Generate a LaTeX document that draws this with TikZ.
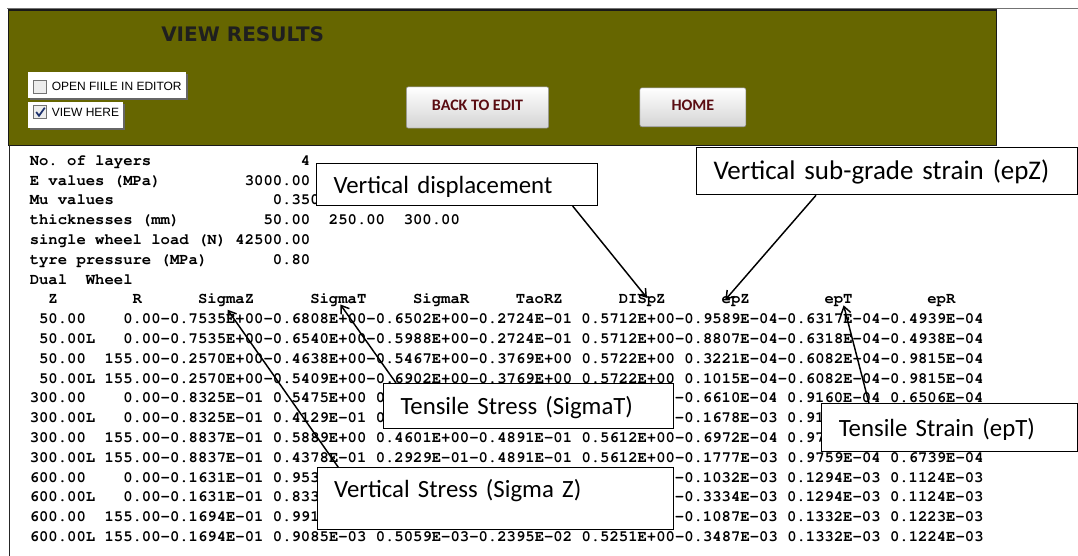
\documentclass[tikz,border=0pt]{standalone}
\usepackage{fontspec}
\newfontfamily\notefont{Carlito}
\newfontfamily\formfont{Liberation Sans}
\newfontfamily\headfont{DejaVu Sans}
\newcommand\monofont{\usefont{OT1}{pcr}{b}{n}\frenchspacing}
\usetikzlibrary{arrows.meta,calc,positioning}
\definecolor{panelolive}{RGB}{102,102,0}
\definecolor{btntext}{RGB}{90,12,18}
\definecolor{ticknavy}{RGB}{30,50,110}
\tikzset{
    cell/.style={anchor=base west,inner sep=0pt,font=\monofont\fontsize{11.69}{14}\selectfont},
    callout/.style={draw,fill=white,line width=0.75pt,anchor=north west,align=left,
        inner xsep=12.75pt,inner ysep=0pt,text height=13pt,text depth=0pt,
        font=\notefont\fontsize{18.6}{22}\selectfont},
    pointer/.style={-{Straight Barb[length=5.5pt,width=7.5pt]},line width=1.1pt},
    button/.style={draw=black!45,rounded corners=1.5pt,top color=white,bottom color=black!17,
        font=\notefont\bfseries\fontsize{12}{14}\selectfont,text=btntext,text depth=3pt},
    checkbox/.style={draw=black!55,fill=black!7,minimum size=9.75pt,inner sep=0pt},
    formlabel/.style={inner sep=0pt,font=\formfont\fontsize{9}{11}\selectfont,right=3.6pt of #1}
}
\newcommand\cellw{9.35}
\newcommand\cellh{19.8}
\newcommand\cellx{29.5}
\newcommand\celly{165.3}
\newcommand\tcell[4]{\node[cell] (#1) at ({\cellx+#3*\cellw},{\celly+#2*\cellh}) {#4};}

\begin{document}
\begin{tikzpicture}[x=0.75pt,y=-0.75pt]

    \fill[white] (0,0) rectangle (1078,556);
    \useasboundingbox (0,0) rectangle (1078,556);

    \draw[black!55,line width=0.75pt] (7,8.5) -- (1078,8.5);
    \draw[fill=panelolive,draw=black!90,line width=1.2pt] (8.6,10) rectangle (996.3,145.5);
    \draw[black!85,line width=0.9pt] (9.3,145.5) -- (9.3,556);

    \node[anchor=base west,inner sep=0pt,font=\headfont\bfseries\fontsize{15}{18}\selectfont,text=black!88] (title) at (161,41.5) {VIEW RESULTS};

    \fill[black!60] (29.5,73.6) rectangle (188,100.1);
    \fill[white] (27.5,71.6) rectangle (186,98.1);
    \fill[black!60] (29.5,104.3) rectangle (125.3,130.1);
    \fill[white] (27.5,102.3) rectangle (123.3,128.1);

    \node[checkbox] (chk1) at (40,86.5) {};
    \node[formlabel=chk1] (openfile) {OPEN FIILE IN EDITOR};
    \node[checkbox] (chk2) at (40,112) {};
    \node[formlabel=chk2] (viewhere) {VIEW HERE};
    \draw[ticknavy,line width=1.3pt] ($(chk2.west)+(3,0)$) -- ($(chk2.south)+(-1,-3)$) -- ($(chk2.north east)+(-2,2.5)$);

    \node[button,minimum width=106.7pt,minimum height=31pt] (back) at (477.5,107.5) {BACK TO EDIT};
    \node[button,minimum width=79.5pt,minimum height=29.2pt] (home) at (692.9,107.3) {HOME};

    \tcell{lay}{0}{0}{No. of layers}
    \tcell{laynum}{0}{29}{4}
    \tcell{ev}{1}{0}{E values (MPa)}
    \tcell{evnum}{1}{23}{3000.00}
    \tcell{mu}{2}{0}{Mu values}
    \tcell{munum}{2}{26}{0.350}
    \tcell{thk}{3}{0}{thicknesses (mm)}
    \tcell{thka}{3}{25}{50.00}
    \tcell{thkb}{3}{32}{250.00}
    \tcell{thkc}{3}{40}{300.00}
    \tcell{load}{4}{0}{single wheel load (N) 42500.00}
    \tcell{tyre}{5}{0}{tyre pressure (MPa)}
    \tcell{tyrenum}{5}{26}{0.80}
    \tcell{dual}{6}{0}{Dual}
    \tcell{wheel}{6}{6}{Wheel}

    \tcell{hz}{7}{2}{Z}
    \tcell{hr}{7}{11}{R}
    \tcell{hsigz}{7}{18}{SigmaZ}
    \tcell{hsigt}{7}{30}{SigmaT}
    \tcell{hsigr}{7}{41}{SigmaR}
    \tcell{htaorz}{7}{52}{TaoRZ}
    \tcell{hdispz}{7}{63}{DISpZ}
    \tcell{hepz}{7}{74}{epZ}
    \tcell{hept}{7}{85}{epT}
    \tcell{hepr}{7}{96}{epR}

    \tcell{r8a}{8}{1}{50.00}
    \tcell{r8b}{8}{10}{0.00-0.7535E+00-0.6808E+00-0.6502E+00-0.2724E-01 0.5712E+00-0.9589E-04-0.6317E-04-0.4939E-04}
    \tcell{r9a}{9}{1}{50.00L}
    \tcell{r9b}{9}{10}{0.00-0.7535E+00-0.6540E+00-0.5988E+00-0.2724E-01 0.5712E+00-0.8807E-04-0.6318E-04-0.4938E-04}
    \tcell{r10a}{10}{1}{50.00}
    \tcell{r10b}{10}{8}{155.00-0.2570E+00-0.4638E+00-0.5467E+00-0.3769E+00 0.5722E+00 0.3221E-04-0.6082E-04-0.9815E-04}
    \tcell{r11a}{11}{1}{50.00L 155.00-0.2570E+00-0.5409E+00-0.6902E+00-0.3769E+00 0.5722E+00 0.1015E-04-0.6082E-04-0.9815E-04}
    \tcell{r12a}{12}{0}{300.00}
    \tcell{r12b}{12}{10}{0.00-0.8325E-01 0.5475E+00 0}
    \tcell{r12c}{12}{69}{-0.6610E-04 0.9160E-04 0.6506E-04}
    \tcell{r13a}{13}{0}{300.00L}
    \tcell{r13b}{13}{10}{0.00-0.8325E-01 0.4129E-01 0}
    \tcell{r13c}{13}{69}{-0.1678E-03 0.91}
    \tcell{r14a}{14}{0}{300.00}
    \tcell{r14b}{14}{8}{155.00-0.8837E-01 0.5889E+00 0.4601E+00-0.4891E-01 0.5612E+00-0.6972E-04 0.97}
    \tcell{r15a}{15}{0}{300.00L 155.00-0.8837E-01 0.4378E-01 0.2929E-01-0.4891E-01 0.5612E+00-0.1777E-03 0.9759E-04 0.6739E-04}
    \tcell{r16a}{16}{0}{600.00}
    \tcell{r16b}{16}{10}{0.00-0.1631E-01 0.953}
    \tcell{r16c}{16}{69}{-0.1032E-03 0.1294E-03 0.1124E-03}
    \tcell{r17a}{17}{0}{600.00L}
    \tcell{r17b}{17}{10}{0.00-0.1631E-01 0.833}
    \tcell{r17c}{17}{69}{-0.3334E-03 0.1294E-03 0.1124E-03}
    \tcell{r18a}{18}{0}{600.00}
    \tcell{r18b}{18}{8}{155.00-0.1694E-01 0.991}
    \tcell{r18c}{18}{69}{-0.1087E-03 0.1332E-03 0.1223E-03}
    \tcell{r19a}{19}{0}{600.00L 155.00-0.1694E-01 0.9085E-03 0.5059E-03-0.2395E-02 0.5251E+00-0.3487E-03 0.1332E-03 0.1224E-03}

    \node[callout,text width=185pt,minimum height=31.3pt] (vdisp) at (316,163.3) {Vertical displacement};
    \node[callout,text width=260.25pt,minimum height=35.7pt,font=\notefont\fontsize{20.2}{24}\selectfont] (subgrade) at (696,146.7) {Vertical sub-grade strain (epZ)};
    \node[callout,text width=192pt,minimum height=33.75pt] (tstress) at (383,383) {Tensile Stress (SigmaT)};
    \node[callout,text width=241.7pt,minimum height=46.5pt,text depth=15.5pt] (vstress) at (316.7,467.3) {Vertical Stress (Sigma Z)};
    \node[callout,text width=166.3pt,minimum height=35.8pt] (tstrain) at (821.3,403.3) {Tensile Strain (epT)};

    \draw[pointer] ($(vdisp.south east)+(-25,0)$) -- ($(hdispz.center)+(4.8,-2.6)$);
    \draw[pointer] ($(subgrade.south west)+(120,0)$) -- ($(hepz.center)+(-10.4,-0.9)$);
    \draw[pointer] ($(tstress.north west)+(13,0)$) -- ($(hsigt.center)+(2,4.6)$);
    \draw[pointer] ($(vstress.north west)+(21.6,0)$) -- ($(hsigz.center)+(1.4,9.8)$);
    \draw[pointer] ($(tstrain.north west)+(47.7,0)$) -- ($(hept.center)+(5.1,4.6)$);

\end{tikzpicture}
\end{document}
